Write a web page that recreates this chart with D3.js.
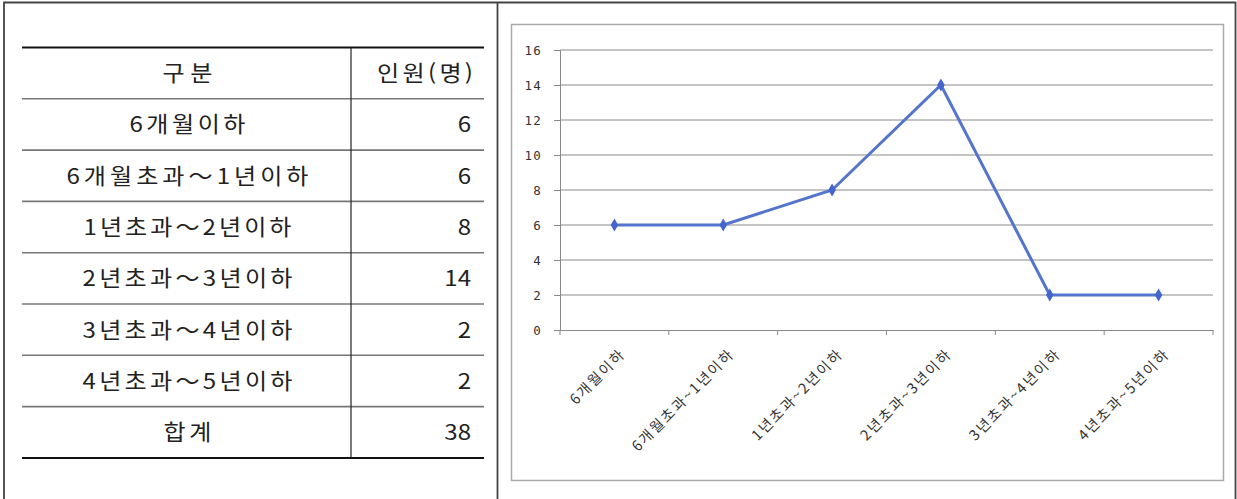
<!DOCTYPE html>
<html lang="ko">
<head>
<meta charset="utf-8">
<script src="https://d3js.org/d3.v7.min.js"></script>
<style>
  body { margin: 0; background: #fff; }
  svg text { font-family: "Noto Sans CJK KR", "Noto Sans", sans-serif; }
</style>
</head>
<body>
<svg id="chart" width="1237" height="499"></svg>

<script>
  // data
  var tableHeader = ["구분", "인원(명)"]
  var tableLabels = ["6개월이하", "6개월초과～1년이하", "1년초과～2년이하", "2년초과～3년이하", "3년초과～4년이하", "4년초과～5년이하"]
  var tableValues = [6, 6, 8, 14, 2, 2]
  var totalLabel = "합계"
  var totalValue = 38

  var categories = ["6개월이하", "6개월초과~1년이하", "1년초과~2년이하", "2년초과~3년이하", "3년초과~4년이하", "4년초과~5년이하"]
  var values = [6, 6, 8, 14, 2, 2]
  var yTicks = [0, 2, 4, 6, 8, 10, 12, 14, 16]

  var svg = d3.select('#chart')

  // outer frame (no bottom line)
  svg.append('path')
     .attr('d', 'M4,499 V2.5 H1235.5 V499 M497.5,2.5 V499')
     .attr('fill', 'none')
     .attr('stroke', '#444')
     .attr('stroke-width', 1.8)

  // ---- table ----
  var tLeft = 22, tRight = 484, tDiv = 351, tTop = 47.5, rowH = 51.3
  var stretch = 1.12
  var rows = [tableHeader].concat(tableLabels.map(function(d, i) { return [d, tableValues[i]] }))
                          .concat([[totalLabel, totalValue]])
  var rowY = d3.scaleLinear().domain([0, rows.length]).range([tTop, tTop + rowH * rows.length])
  // text widths per row (distributed spacing of the original document)
  var labelWidth = [50, 116, 242, 208, 210, 210, 210, 48]

  var tbl = svg.append('g')
  tbl.selectAll('line.row')
     .data(d3.range(rows.length + 1))
     .enter()
     .append('line')
     .attr('x1', tLeft).attr('x2', tRight)
     .attr('y1', function(d) { return rowY(d) }).attr('y2', function(d) { return rowY(d) })
     .attr('stroke', function(d) { return (d == 0 || d == rows.length) ? '#111' : '#777' })
     .attr('stroke-width', function(d) { return (d == 0 || d == rows.length) ? 2 : 1.6 })
  tbl.append('line')
     .attr('x1', tDiv).attr('x2', tDiv)
     .attr('y1', rowY(0)).attr('y2', rowY(rows.length))
     .attr('stroke', '#222').attr('stroke-width', 1.2)

  tbl.selectAll('text.lbl')
     .data(rows)
     .enter()
     .append('text')
     .attr('transform', function(d, i) {
        return 'translate(' + (187.5 - labelWidth[i] / 2) + ',' + (rowY(i + 0.5) + 8) + ') scale(' + stretch + ',1)'
     })
     .attr('font-size', 21.5)
     .attr('textLength', function(d, i) { return labelWidth[i] / stretch })
     .attr('lengthAdjust', 'spacing')
     .attr('fill', '#222')
     .text(function(d) { return d[0] })
  tbl.selectAll('text.val')
     .data(rows)
     .enter()
     .append('text')
     .attr('transform', function(d, i) {
        return 'translate(' + (i == 0 ? 377 : 471) + ',' + (rowY(i + 0.5) + 8) + ') scale(' + stretch + ',1)'
     })
     .attr('text-anchor', function(d, i) { return i == 0 ? 'start' : 'end' })
     .attr('textLength', function(d, i) { return i == 0 ? 96 / stretch : null })
     .attr('lengthAdjust', 'spacing')
     .attr('font-size', 21.5)
     .attr('fill', '#222')
     .text(function(d) { return d[1] })

  // ---- line chart ----
  svg.append('rect')
     .attr('x', 511.5).attr('y', 24.5)
     .attr('width', 712).attr('height', 456)
     .attr('fill', '#fff')
     .attr('stroke', '#aaa').attr('stroke-width', 1.5)

  var x = d3.scaleBand().domain(categories).range([560, 1213])
  var y = d3.scaleLinear().domain([0, 16]).range([330, 50])

  var grid = svg.append('g')
  grid.selectAll('line')
      .data(yTicks.filter(function(d) { return d > 0 }))
      .enter()
      .append('line')
      .attr('x1', 560).attr('x2', 1213)
      .attr('y1', function(d) { return y(d) }).attr('y2', function(d) { return y(d) })
      .attr('stroke', '#8a8a8a').attr('stroke-width', 1)

  var yAxis = svg.append('g')
     .attr('transform', 'translate(560,0)')
     .call(d3.axisLeft(y).tickValues(yTicks).tickSize(6).tickPadding(12))
  yAxis.select('.domain').attr('stroke', '#888')
  yAxis.selectAll('.tick line').attr('stroke', '#888')
  yAxis.selectAll('text').attr('font-size', 12.5).attr('fill', '#333')
       .style('font-family', '"DejaVu Sans Mono", monospace').attr('letter-spacing', 1.2)

  var xAxis = svg.append('g')
     .attr('transform', 'translate(0,330)')
     .call(d3.axisBottom(x).tickSize(0).tickFormat(''))
  xAxis.select('.domain').attr('stroke', '#888')
  xAxis.selectAll('line.sep')
       .data(d3.range(categories.length + 1))
       .enter()
       .append('line')
       .attr('x1', function(d) { return 560 + d * x.step() })
       .attr('x2', function(d) { return 560 + d * x.step() })
       .attr('y1', 0).attr('y2', 5)
       .attr('stroke', '#888')

  svg.append('g')
     .selectAll('text')
     .data(categories)
     .enter()
     .append('text')
     .attr('transform', function(d) {
        return 'translate(' + (x(d) + x.bandwidth() / 2 + 12) + ',355) rotate(-45)'
     })
     .attr('text-anchor', 'end')
     .attr('font-size', 14.5)
     .attr('letter-spacing', 2)
     .attr('fill', '#333')
     .text(function(d) { return d })

  var line = d3.line()
     .x(function(d, i) { return x(categories[i]) + x.bandwidth() / 2 })
     .y(function(d) { return y(d) })

  svg.append('path')
     .datum(values)
     .attr('d', line)
     .attr('fill', 'none')
     .attr('stroke', '#5575cc')
     .attr('stroke-width', 3)

  svg.append('g')
     .selectAll('path')
     .data(values)
     .enter()
     .append('path')
     .attr('d', d3.symbol().type(d3.symbolDiamond).size(50))
     .attr('transform', function(d, i) {
        return 'translate(' + (x(categories[i]) + x.bandwidth() / 2) + ',' + y(d) + ')'
     })
     .attr('fill', '#4466cc')
</script>
</body>
</html>
